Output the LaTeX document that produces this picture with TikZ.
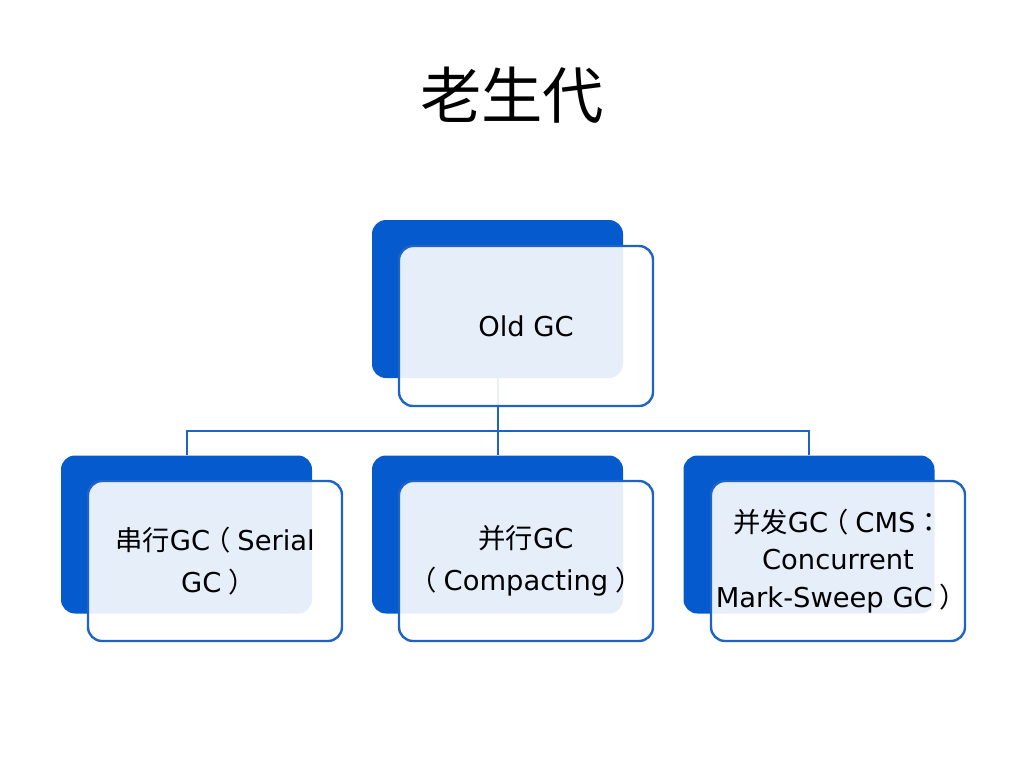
\documentclass[tikz,border=0pt]{standalone}
\usepackage{fontspec}
\setmainfont{DejaVu Sans}
\newfontfamily\cjk{Noto Sans CJK SC}
\newfontfamily\cjkp{Noto Sans CJK TC}
\usetikzlibrary{positioning}
\definecolor{mblue}{RGB}{5, 90, 205}
\definecolor{mline}{RGB}{30, 100, 200}
% full-width brackets, ink set in the middle of the cell
\newcommand{\lpar}{{\cjk\kern-0.25em （\kern0.25em}}
\newcommand{\rpar}{{\cjk\kern0.25em ）\kern-0.25em}}
\tikzset{back/.style = {fill = mblue, rounded corners = 10.5pt,
                        minimum width = 188.25pt, minimum height = 118.5pt, inner sep = 0}}
\tikzset{front/.style = {draw = mline, line width = 1.8pt, fill = white, fill opacity = 0.9,
                         text opacity = 1, rounded corners = 10.5pt, align = center,
                         minimum width = 190.5pt, minimum height = 120pt, inner sep = 0,
                         font = \fontsize{20.5}{31.5}\selectfont}}
\tikzset{link/.style = {draw = mline, line width = 1.5pt}}
\begin{document}
\begin{tikzpicture}[x = 0.75pt, y = -0.75pt]
  \useasboundingbox (0, 0) rectangle (1024, 768);

  \node (title) at (512, 95) {\cjk\fontsize{46}{50}\selectfont 老生代};

  \node [back] (oldback) at (497.5, 299) {};
  \node [back] (serialback) at (186.5, 534.5) {};
  \node [back] (parback) at (497.5, 534.5) {};
  \node [back] (cmsback) at (809, 534.5) {};

  \coordinate (bus) at (497.5, 431);
  \draw [link] (oldback.south) -- (parback.north);
  \draw [link] (serialback.north) -- (serialback.north |- bus) -- (cmsback.north |- bus) -- (cmsback.north);

  \node [front] (old) at (526, 326) {Old GC};
  \node [front] (serial) at (215, 561) {{\cjk 串行}GC\lpar Serial\\GC\rpar};
  \node [front] (par) at (526, 561) {{\cjk 并行}GC\\\lpar Compacting\rpar};
  \node [front, font = \fontsize{20.5}{28}\selectfont] (cms) at (838, 561)
    {{\cjk 并发}GC\lpar CMS{\cjkp ：}\\Concurrent\\Mark-Sweep GC\rpar};
\end{tikzpicture}
\end{document}
